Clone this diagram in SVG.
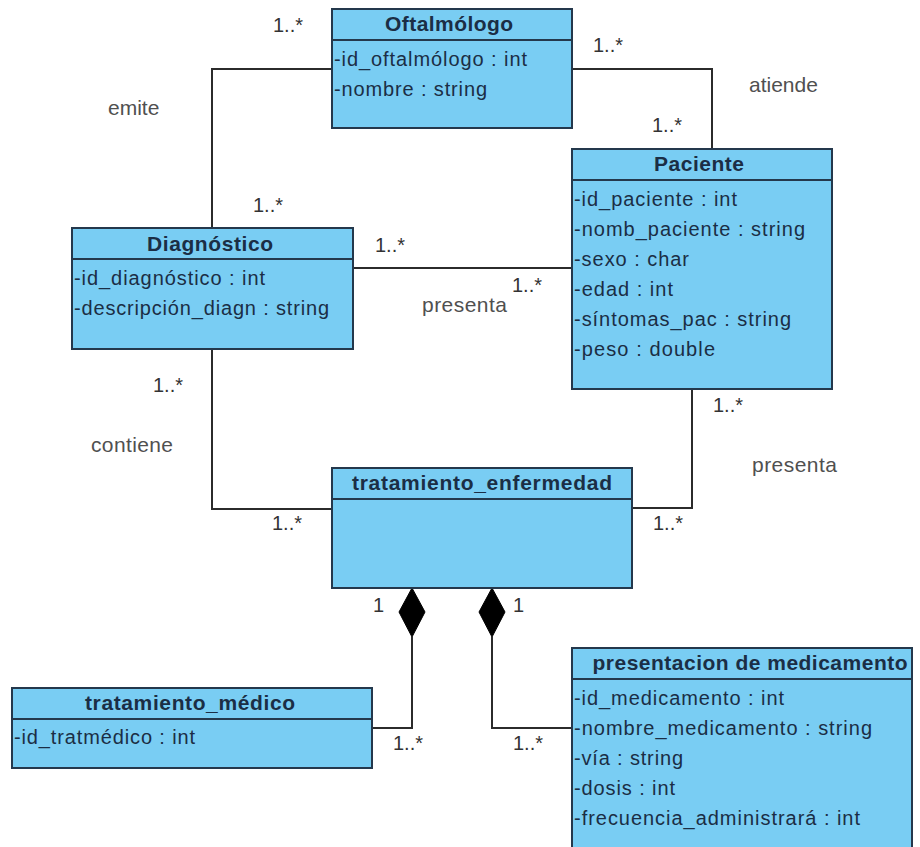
<svg xmlns="http://www.w3.org/2000/svg" width="920" height="847" viewBox="0 0 920 847">
<style>
.box{fill:#79CDF3;stroke:#24384C;stroke-width:2}
.sep{stroke:#24384C;stroke-width:2}
.title{font-family:"Liberation Sans",Arial,sans-serif;font-size:21px;font-weight:bold;fill:#1B2E45;text-anchor:middle}
.attr{font-family:"Liberation Sans",Arial,sans-serif;font-size:20px;fill:#1B2E45}
.conn{fill:none;stroke:#2B2B2B;stroke-width:2}
.mult{font-family:"Liberation Sans",Arial,sans-serif;font-size:20px;fill:#333333}
.lbl{font-family:"Liberation Sans",Arial,sans-serif;font-size:21px;fill:#505050}
.dia{fill:#000000;stroke:#000000;stroke-width:1}
</style>
<rect width="920" height="847" fill="#FFFFFF"/>
<g id="connectors">
<polyline class="conn" points="332,69 212,69 212,228"/>
<polyline class="conn" points="572,69 712,69 712,149"/>
<line class="conn" x1="353" y1="268" x2="572" y2="268"/>
<polyline class="conn" points="212,349 212,509 332,509"/>
<polyline class="conn" points="692,389 692,508 632,508"/>
<polyline class="conn" points="412,637 412,728 372,728"/>
<polyline class="conn" points="492,637 492,728 572,728"/>
<path class="dia" d="M412,588 L425,612 L412,637 L399,612 Z"/>
<path class="dia" d="M492,588 L505,612 L492,637 L479,612 Z"/>
<text class="mult" x="273" y="32">1..*</text>
<text class="mult" x="253" y="212">1..*</text>
<text class="lbl" x="108" y="115">emite</text>
<text class="mult" x="593" y="52">1..*</text>
<text class="mult" x="652" y="132">1..*</text>
<text class="lbl" x="749" y="92">atiende</text>
<text class="mult" x="375" y="252">1..*</text>
<text class="mult" x="512" y="292">1..*</text>
<text class="lbl" x="422" y="312" textLength="85" lengthAdjust="spacing">presenta</text>
<text class="mult" x="153" y="392">1..*</text>
<text class="lbl" x="91" y="452" textLength="82" lengthAdjust="spacing">contiene</text>
<text class="mult" x="272" y="530">1..*</text>
<text class="mult" x="713" y="412">1..*</text>
<text class="lbl" x="752" y="472" textLength="85" lengthAdjust="spacing">presenta</text>
<text class="mult" x="653" y="530">1..*</text>
<text class="mult" x="373" y="612">1</text>
<text class="mult" x="513" y="612">1</text>
<text class="mult" x="393" y="750">1..*</text>
<text class="mult" x="513" y="750">1..*</text>
</g>
<g id="oftalmologo">
<rect class="box" x="332" y="9" width="240" height="119"/>
<line class="sep" x1="332" y1="40" x2="572" y2="40"/>
<text class="title" x="449" y="31" textLength="128" lengthAdjust="spacing">Oftalmólogo</text>
<text class="attr" x="334" y="66" textLength="193" lengthAdjust="spacing">-id_oftalmólogo : int</text>
<text class="attr" x="334" y="96" textLength="153" lengthAdjust="spacing">-nombre : string</text>
</g>
<g id="paciente">
<rect class="box" x="572" y="149" width="260" height="240"/>
<line class="sep" x1="572" y1="180" x2="832" y2="180"/>
<text class="title" x="699" y="171" textLength="90" lengthAdjust="spacing">Paciente</text>
<text class="attr" x="574" y="206" textLength="163" lengthAdjust="spacing">-id_paciente : int</text>
<text class="attr" x="574" y="236" textLength="231" lengthAdjust="spacing">-nomb_paciente : string</text>
<text class="attr" x="574" y="266" textLength="115" lengthAdjust="spacing">-sexo : char</text>
<text class="attr" x="574" y="296" textLength="99" lengthAdjust="spacing">-edad : int</text>
<text class="attr" x="574" y="326" textLength="217" lengthAdjust="spacing">-síntomas_pac : string</text>
<text class="attr" x="574" y="356" textLength="141" lengthAdjust="spacing">-peso : double</text>
</g>
<g id="diagnostico">
<rect class="box" x="72" y="228" width="281" height="121"/>
<line class="sep" x1="72" y1="259" x2="353" y2="259"/>
<text class="title" x="210" y="251" textLength="126" lengthAdjust="spacing">Diagnóstico</text>
<text class="attr" x="74" y="285" textLength="191" lengthAdjust="spacing">-id_diagnóstico : int</text>
<text class="attr" x="74" y="315" textLength="255" lengthAdjust="spacing">-descripción_diagn : string</text>
</g>
<g id="tratamiento_enfermedad">
<rect class="box" x="332" y="468" width="300" height="120"/>
<line class="sep" x1="332" y1="499" x2="632" y2="499"/>
<text class="title" x="482" y="490" textLength="260" lengthAdjust="spacing">tratamiento_enfermedad</text>
</g>
<g id="tratamiento_medico">
<rect class="box" x="12" y="688" width="360" height="80"/>
<line class="sep" x1="12" y1="719" x2="372" y2="719"/>
<text class="title" x="190" y="710" textLength="210" lengthAdjust="spacing">tratamiento_médico</text>
<text class="attr" x="14" y="744" textLength="181" lengthAdjust="spacing">-id_tratmédico : int</text>
</g>
<g id="presentacion_medicamento">
<rect class="box" x="572" y="648" width="340" height="205"/>
<line class="sep" x1="572" y1="679" x2="912" y2="679"/>
<text class="title" x="750" y="670" textLength="315" lengthAdjust="spacing">presentacion de medicamento</text>
<text class="attr" x="574" y="705" textLength="210" lengthAdjust="spacing">-id_medicamento : int</text>
<text class="attr" x="574" y="735" textLength="298" lengthAdjust="spacing">-nombre_medicamento : string</text>
<text class="attr" x="574" y="765" textLength="109" lengthAdjust="spacing">-vía : string</text>
<text class="attr" x="574" y="795" textLength="101" lengthAdjust="spacing">-dosis : int</text>
<text class="attr" x="574" y="825" textLength="286" lengthAdjust="spacing">-frecuencia_administrará : int</text>
</g>
</svg>
